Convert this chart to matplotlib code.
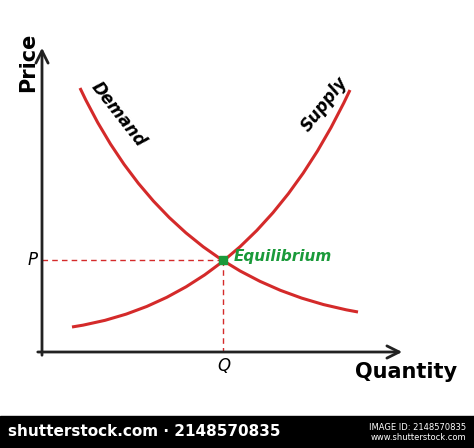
import matplotlib.pyplot as plt
from matplotlib.path import Path
from matplotlib.patches import PathPatch, Rectangle

# curve anchors (start, control, end) in picture coordinates
demand_pts = [(80, 88), (170, 280), (358, 312)]
supply_pts = [(72, 327), (252, 300), (350, 90)]
equilibrium = (223, 260)
origin = (42, 352)
red = '#d42a2a'
green = '#1a9a3a'

fig = plt.figure(figsize=(4.74, 4.48), dpi=100)
ax = fig.add_axes([0, 0, 1, 1])
ax.set_xlim(0, 474)
ax.set_ylim(448, 0)
ax.axis('off')

for pts in (demand_pts, supply_pts):
    path = Path(pts, [Path.MOVETO, Path.CURVE3, Path.CURVE3])
    ax.add_patch(PathPatch(path, fill=False, ec=red, lw=2.2))

# axes arrows
ax.annotate('', xy=(origin[0], 45), xytext=(origin[0], 358),
            arrowprops=dict(arrowstyle='->', lw=2, color='#222', mutation_scale=22))
ax.annotate('', xy=(405, origin[1]), xytext=(35, origin[1]),
            arrowprops=dict(arrowstyle='->', lw=2, color='#222', mutation_scale=22))

ex, ey = equilibrium
ax.plot([origin[0], ex], [ey, ey], ls=(0, (4, 3)), color=red, lw=1)
ax.plot([ex, ex], [ey, origin[1]], ls=(0, (4, 3)), color=red, lw=1)
ax.plot(ex, ey, 's', color=green, ms=6)

ax.text(28, 62, 'Price', rotation=90, fontsize=15, fontweight='bold', ha='center', va='center')
ax.text(406, 372, 'Quantity', fontsize=15, fontweight='bold', ha='center', va='center')
ax.text(118, 114, 'Demand', rotation=-52, fontsize=12, fontstyle='italic',
        fontweight='bold', ha='center', va='center')
ax.text(324, 104, 'Supply', rotation=52, fontsize=12, fontstyle='italic',
        fontweight='bold', ha='center', va='center')
ax.text(234, 256, 'Equilibrium', color=green, fontsize=11, fontstyle='italic',
        fontweight='bold', ha='left', va='center')
ax.text(33, 260, 'P', fontsize=12, fontstyle='italic', ha='center', va='center')
ax.text(224, 366, 'Q', fontsize=12, fontstyle='italic', ha='center', va='center')

# bottom banner
ax.add_patch(Rectangle((0, 416), 474, 32, color='black'))
ax.text(8, 432, 'shutterstock.com · 2148570835', color='white', fontsize=11,
        fontweight='bold', va='center')
ax.text(466, 427, 'IMAGE ID: 2148570835', color='white', fontsize=6, ha='right', va='center')
ax.text(466, 438, 'www.shutterstock.com', color='white', fontsize=6, ha='right', va='center')

fig.savefig('out.png', dpi=100)
